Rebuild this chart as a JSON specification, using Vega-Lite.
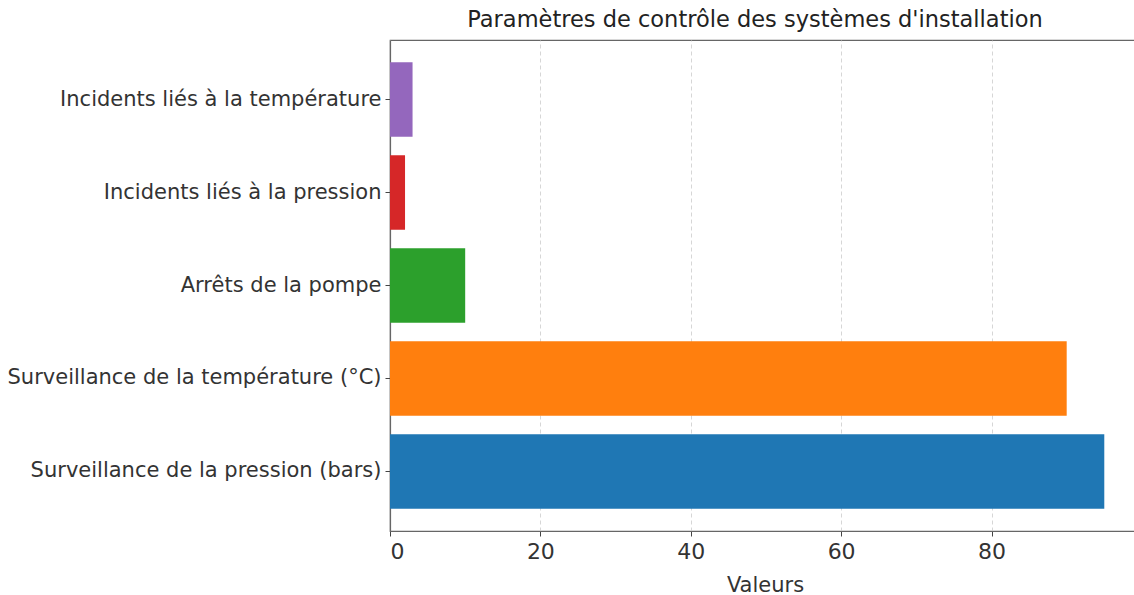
{
  "$schema": "https://vega.github.io/schema/vega-lite/v6.json",
  "autosize": {"type": "none"},
  "padding": {"left": 390, "top": 40, "right": 0, "bottom": 64},
  "width": 750,
  "height": 491,
  "background": "white",
  "title": {
    "text": "Paramètres de contrôle des systèmes d'installation",
    "font": "DejaVu Sans",
    "fontSize": 22.5,
    "fontWeight": "normal",
    "color": "#222",
    "anchor": "middle",
    "dx": -10,
    "offset": 9
  },
  "config": {
    "view": {"stroke": "#666", "strokeWidth": 1.2},
    "axis": {"labelFont": "DejaVu Sans", "titleFont": "DejaVu Sans", "labelColor": "#333", "titleColor": "#333"}
  },
  "data": {
    "values": [
      {"parametre": "Incidents liés à la température", "valeur": 3},
      {"parametre": "Incidents liés à la pression", "valeur": 2},
      {"parametre": "Arrêts de la pompe", "valeur": 10},
      {"parametre": "Surveillance de la température (°C)", "valeur": 90},
      {"parametre": "Surveillance de la pression (bars)", "valeur": 95}
    ]
  },
  "mark": {"type": "bar"},
  "encoding": {
    "y": {
      "field": "parametre",
      "type": "nominal",
      "sort": null,
      "scale": {"paddingInner": 0.2, "paddingOuter": 0.24},
      "axis": {
        "title": null,
        "labelFontSize": 21,
        "labelLimit": 400,
        "labelPadding": 4,
        "tickSize": 5,
        "tickColor": "#444",
        "domainColor": "#666",
        "domainWidth": 1.2,
        "grid": false
      }
    },
    "x": {
      "field": "valeur",
      "type": "quantitative",
      "scale": {"domain": [0, 99.75], "nice": false, "zero": true},
      "axis": {
        "title": "Valeurs",
        "titleFontSize": 21,
        "titleFontWeight": "normal",
        "titlePadding": 12,
        "labelFontSize": 22,
        "labelPadding": 5,
        "values": [0, 20, 40, 60, 80],
        "tickSize": 5,
        "tickColor": "#444",
        "domainColor": "#666",
        "domainWidth": 1.2,
        "grid": true,
        "gridDash": [4, 3],
        "gridColor": "#ccc",
        "gridWidth": 0.8
      }
    },
    "color": {
      "field": "parametre",
      "type": "nominal",
      "legend": null,
      "scale": {
        "domain": ["Surveillance de la pression (bars)", "Surveillance de la température (°C)", "Arrêts de la pompe", "Incidents liés à la pression", "Incidents liés à la température"],
        "range": ["#1f77b4", "#ff7f0e", "#2ca02c", "#d62728", "#9467bd"]
      }
    }
  }
}
